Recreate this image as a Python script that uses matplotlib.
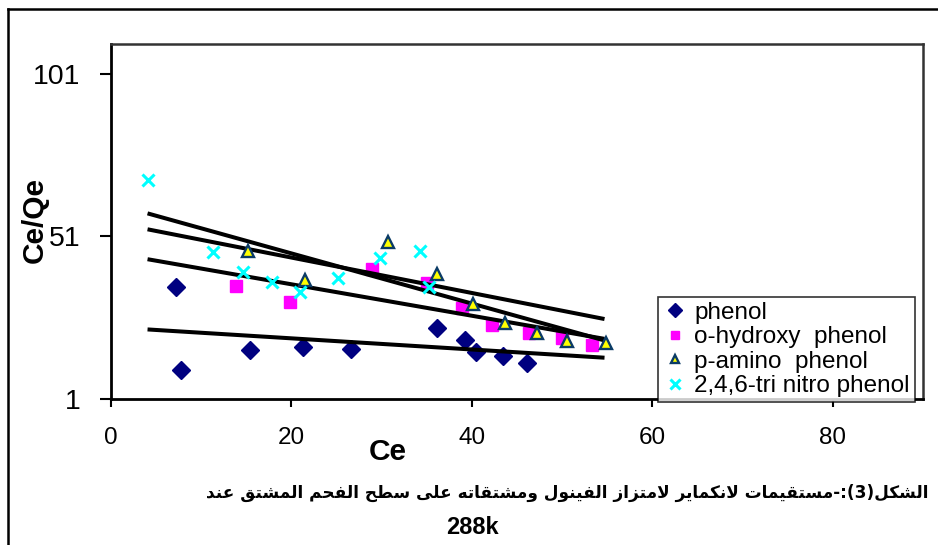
import matplotlib
matplotlib.use("Agg")
import matplotlib.pyplot as plt
from matplotlib.lines import Line2D

# ---------------- data ----------------
phenol_x = [7.2, 7.8, 15.4, 21.3, 26.6, 36.1, 39.2, 40.5, 43.5, 46.1]
phenol_y = [35.6, 9.9, 16.0, 17.1, 16.5, 22.8, 19.2, 15.4, 14.1, 12.2]
ohydroxy_x = [13.9, 19.8, 28.9, 35.0, 38.9, 42.2, 46.3, 50.0, 53.3]
ohydroxy_y = [35.8, 30.8, 41.1, 36.6, 29.1, 23.7, 21.4, 19.7, 17.7]
pamino_x = [15.2, 21.5, 30.7, 36.1, 40.1, 43.7, 47.2, 50.5, 54.9]
pamino_y = [46.6, 37.6, 49.2, 39.5, 30.1, 24.5, 21.2, 18.9, 18.3]
trinitro_x = [4.1, 11.3, 14.6, 17.8, 20.9, 25.2, 29.8, 34.2, 35.3]
trinitro_y = [68.4, 46.1, 40.0, 36.9, 33.8, 38.2, 44.3, 46.6, 35.6]

trend_x = [4.05, 54.7]
trend_lines_y = [
    [58.1, 19.0],
    [53.2, 25.6],
    [44.0, 19.5],
    [22.4, 13.7],
]

series_labels = ["phenol", "o-hydroxy  phenol", "p-amino  phenol", "2,4,6-tri nitro phenol"]
x_ticks = [0, 20, 40, 60, 80]
y_ticks = [1, 51, 101]
x_label = "Ce"
y_label = "Ce/Qe"
caption_line1 = "الشكل(3):-مستقيمات لانكماير لامتزاز الفينول ومشتقاته على سطح الفحم المشتق عند"
caption_line2 = "288k"

# ---------------- Arabic shaping (no external libs) ----------------
FORMS = {
    'ا': (0xFE8D, 0xFE8E, None, None),
    'ت': (0xFE95, 0xFE96, 0xFE97, 0xFE98),
    'ح': (0xFEA1, 0xFEA2, 0xFEA3, 0xFEA4),
    'د': (0xFEA9, 0xFEAA, None, None),
    'ر': (0xFEAD, 0xFEAE, None, None),
    'ز': (0xFEAF, 0xFEB0, None, None),
    'س': (0xFEB1, 0xFEB2, 0xFEB3, 0xFEB4),
    'ش': (0xFEB5, 0xFEB6, 0xFEB7, 0xFEB8),
    'ط': (0xFEC1, 0xFEC2, 0xFEC3, 0xFEC4),
    'ع': (0xFEC9, 0xFECA, 0xFECB, 0xFECC),
    'ف': (0xFED1, 0xFED2, 0xFED3, 0xFED4),
    'ق': (0xFED5, 0xFED6, 0xFED7, 0xFED8),
    'ك': (0xFED9, 0xFEDA, 0xFEDB, 0xFEDC),
    'ل': (0xFEDD, 0xFEDE, 0xFEDF, 0xFEE0),
    'م': (0xFEE1, 0xFEE2, 0xFEE3, 0xFEE4),
    'ن': (0xFEE5, 0xFEE6, 0xFEE7, 0xFEE8),
    'ه': (0xFEE9, 0xFEEA, 0xFEEB, 0xFEEC),
    'و': (0xFEED, 0xFEEE, None, None),
    'ى': (0xFEEF, 0xFEF0, None, None),
    'ي': (0xFEF1, 0xFEF2, 0xFEF3, 0xFEF4),
}


def shape_arabic(text):
    def is_ar(c):
        return c in FORMS

    def dual(c):
        return c in FORMS and FORMS[c][2] is not None

    out = []
    i = 0
    n = len(text)
    while i < n:
        c = text[i]
        if not is_ar(c):
            out.append(c)
            i += 1
            continue
        prev = text[i - 1] if i > 0 else ''
        jp = dual(prev)
        if c == 'ل' and i + 1 < n and text[i + 1] == 'ا':
            out.append(chr(0xFEFC if jp else 0xFEFB))
            i += 2
            continue
        nxt = text[i + 1] if i + 1 < n else ''
        jn = dual(c) and is_ar(nxt)
        iso, fin, ini, med = FORMS[c]
        if jp and jn:
            f = med
        elif jp:
            f = fin
        elif jn:
            f = ini
        else:
            f = iso
        out.append(chr(f))
        i += 1
    vis = ''.join(reversed(out))
    vis = vis.translate(str.maketrans({'(': ')', ')': '('}))
    return vis


# ---------------- figure ----------------
W, H = 938, 545
fig = plt.figure(figsize=(W / 100, H / 100), dpi=100)
plt.rcParams['font.family'] = ['Liberation Sans', 'DejaVu Sans']

ax_l, ax_r, ax_t, ax_b = 111, 923, 44, 399
ax = fig.add_axes([ax_l / W, 1 - ax_b / H, (ax_r - ax_l) / W, (ax_b - ax_t) / H])

navy = '#000080'
for ty in trend_lines_y:
    ax.plot(trend_x, ty, color='black', lw=2.9, zorder=2.5, solid_capstyle='butt')

ax.plot(phenol_x, phenol_y, linestyle='none', marker='D', ms=9.5, color=navy,
        mec=navy, label=series_labels[0], zorder=2)
ax.plot(ohydroxy_x, ohydroxy_y, linestyle='none', marker='s', ms=8, color='#FF00FF',
        mec='#FF00FF', label=series_labels[1], zorder=2)
ax.plot(pamino_x, pamino_y, linestyle='none', marker='^', ms=8, color='#FFFF00',
        mec='#0B3B66', mew=1.7, label=series_labels[2], zorder=3)
ax.plot(trinitro_x, trinitro_y, linestyle='none', marker='x', ms=8.5, color='#00FFFF',
        mew=2.2, label=series_labels[3], zorder=3)

ax.set_xlim(0, 90)
ax.set_ylim(1, 110.2)
ax.set_xticks(x_ticks)
ax.set_yticks(y_ticks)
ax.set_xticklabels([str(v) for v in x_ticks], fontsize=17.5)
ax.set_yticklabels([str(v) for v in y_ticks], fontsize=20.5)
ax.tick_params(axis='x', direction='out', length=5.8, width=1.5, pad=14.5)
ax.tick_params(axis='y', direction='out', length=8, width=1.5, pad=14)

for side in ['left', 'bottom']:
    ax.spines[side].set_linewidth(2.0)
    ax.spines[side].set_color('black')
for side in ['top', 'right']:
    ax.spines[side].set_linewidth(1.8)
    ax.spines[side].set_color('#333333')

leg = ax.legend(loc='upper left', bbox_to_anchor=(658 / W, 1 - 297 / H),
                bbox_transform=fig.transFigure, fontsize=17.5, frameon=True,
                fancybox=False, edgecolor='black', borderpad=0.2, labelspacing=0.1,
                handlelength=1.0, handletextpad=0.3, borderaxespad=0.0,
                markerscale=0.8)
leg.get_frame().set_linewidth(1.2)
leg.set_zorder(5)

fig.text(388 / W, 1 - 452 / H, x_label, fontsize=21.5, fontweight='bold',
         ha='center', va='center')
fig.text(35 / W, 1 - 220 / H, y_label, fontsize=21.5, fontweight='bold',
         ha='center', va='center', rotation=90)

fig.text(567 / W, 1 - 493 / H, shape_arabic(caption_line1), fontsize=12.2,
         fontweight='bold', family=['DejaVu Sans'], ha='center', va='center')
fig.text(472 / W, 1 - 527 / H, caption_line2, fontsize=17, fontweight='bold',
         ha='center', va='center')

# outer frame (only left and top edges are visible in the crop)
fig.add_artist(Line2D([8 / W, 8 / W], [0, 1 - 9 / H], transform=fig.transFigure,
                      color='black', lw=1.8))
fig.add_artist(Line2D([8 / W, 1], [1 - 9 / H, 1 - 9 / H], transform=fig.transFigure,
                      color='black', lw=1.8))

fig.savefig('out.png', dpi=100)
